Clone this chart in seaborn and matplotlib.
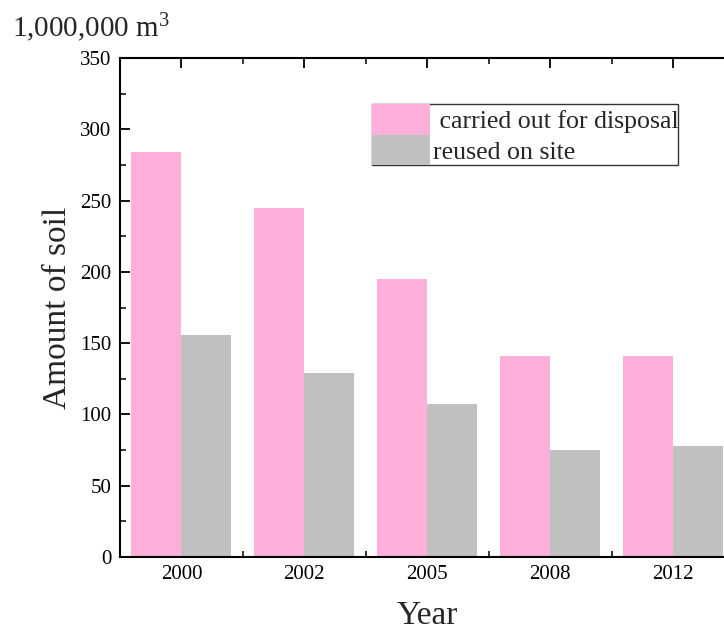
import matplotlib
matplotlib.use("Agg")
import matplotlib.pyplot as plt
import seaborn as sns
import pandas as pd
from matplotlib.ticker import MultipleLocator, FixedLocator

years = ["2000", "2002", "2005", "2008", "2012"]
carried_out = [284, 245, 195, 141, 141]
reused = [156, 129, 107, 75, 78]
series_names = [" carried out for disposal", "reused on site"]
colors = ["#FEB0DA", "#C0C0C0"]

df = pd.DataFrame({
    "Year": years * 2,
    "Amount": carried_out + reused,
    "Type": [series_names[0]] * len(years) + [series_names[1]] * len(years),
})

sns.set_theme(style="ticks")
plt.rcParams["font.family"] = ["Liberation Serif", "DejaVu Serif"]
plt.rcParams["mathtext.fontset"] = "custom"
plt.rcParams["mathtext.rm"] = "Liberation Serif"
plt.rcParams["mathtext.it"] = "Liberation Serif:italic"

W, H = 724, 632
fig = plt.figure(figsize=(W / 100, H / 100), dpi=100)
ax = fig.add_axes([120 / W, (H - 557) / H, 614.5 / W, 499 / H])

sns.barplot(data=df, x="Year", y="Amount", hue="Type", palette=colors,
            saturation=1, width=0.813, gap=0, ax=ax, linewidth=0)

ax.set_xlim(-0.5, 4.5)
ax.set_ylim(0, 350)
ax.yaxis.set_major_locator(MultipleLocator(50))
ax.yaxis.set_minor_locator(MultipleLocator(25))
ax.xaxis.set_minor_locator(FixedLocator([0.5, 1.5, 2.5, 3.5]))

for s in ax.spines.values():
    s.set_linewidth(1.5)
    s.set_color("black")
ax.tick_params(axis="both", which="major", direction="in", length=7, width=1.3,
               labelsize=15, colors="black", top=True, right=True)
ax.tick_params(axis="both", which="minor", direction="in", length=4, width=1.3,
               top=True, right=True)
ax.tick_params(axis="y", which="major", pad=6)
ax.tick_params(axis="x", which="major", pad=6)

ax.set_xlabel("Year", fontsize=24, labelpad=12)
ax.set_ylabel("Amount of soil", fontsize=24, labelpad=5)

handles, labels = ax.get_legend_handles_labels()
leg = ax.legend(handles, labels, loc="upper left",
                bbox_to_anchor=(372 / W, 1 - 104 / H), bbox_transform=fig.transFigure,
                fontsize=18.6, frameon=True, fancybox=False, borderpad=0,
                borderaxespad=0, handletextpad=0.1, labelspacing=0.0,
                handlelength=2.25, handleheight=1.45)
leg.get_frame().set_edgecolor("black")
leg.get_frame().set_linewidth(1.0)

fig.text(12 / W, 1 - 37 / H, "1,000,000 m$^3$", fontsize=21, ha="left",
         va="baseline")

fig.savefig("out.png", dpi=100, facecolor="white")
